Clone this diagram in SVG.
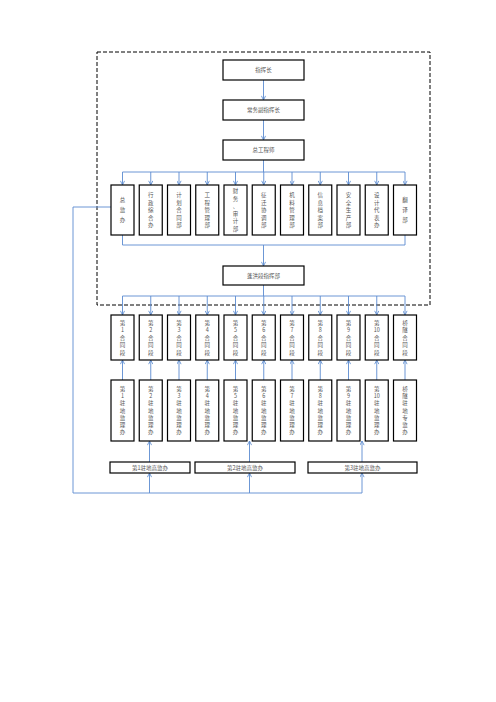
<svg xmlns="http://www.w3.org/2000/svg" width="496" height="702" viewBox="0 0 496 702">
<style>
.b{fill:#fff;stroke:#000;stroke-width:1.2}
.t{font-family:"Noto Sans CJK SC","Liberation Serif",serif;font-size:5.5px;fill:#555;text-anchor:middle}
.c{fill:none;stroke:#5b8bd0;stroke-width:0.9}
.a{marker-end:url(#ar)}
</style>
<defs>
<marker id="ar" viewBox="0 0 6 6" refX="5.5" refY="3" markerWidth="5" markerHeight="5" orient="auto" markerUnits="userSpaceOnUse">
<path d="M0.5,0.5 L5.5,3 L0.5,5.5" fill="none" stroke="#5b8bd0" stroke-width="1"/>
</marker>
</defs>
<rect x="97" y="52" width="333" height="253" fill="none" stroke="#000" stroke-width="1" stroke-dasharray="4,2"/>
<g id="connectors">
<path class="c a" d="M263.5,80 V100"/>
<path class="c a" d="M263.5,120 V140"/>
<path class="c" d="M263.5,160 V172 M122.5,172 H405"/>
<path class="c a" d="M122.5,172 V185"/><path class="c a" d="M150.75,172 V185"/><path class="c a" d="M179,172 V185"/><path class="c a" d="M207.25,172 V185"/><path class="c a" d="M235.5,172 V185"/><path class="c a" d="M263.75,172 V185"/><path class="c a" d="M292,172 V185"/><path class="c a" d="M320.25,172 V185"/><path class="c a" d="M348.5,172 V185"/><path class="c a" d="M376.75,172 V185"/><path class="c a" d="M405,172 V185"/>
<path class="c" d="M122.5,235 V245 H405 V235"/>
<path class="c a" d="M263.5,245 V266"/>
<path class="c" d="M263.5,285 V296 M122.5,296 H405"/>
<path class="c a" d="M122.5,296 V315"/><path class="c a" d="M150.75,296 V315"/><path class="c a" d="M179,296 V315"/><path class="c a" d="M207.25,296 V315"/><path class="c a" d="M235.5,296 V315"/><path class="c a" d="M263.75,296 V315"/><path class="c a" d="M292,296 V315"/><path class="c a" d="M320.25,296 V315"/><path class="c a" d="M348.5,296 V315"/><path class="c a" d="M376.75,296 V315"/><path class="c a" d="M405,296 V315"/>
<path class="c a" d="M122.5,380 V360"/><path class="c a" d="M150.75,380 V360"/><path class="c a" d="M179,380 V360"/><path class="c a" d="M207.25,380 V360"/><path class="c a" d="M235.5,380 V360"/><path class="c a" d="M263.75,380 V360"/><path class="c a" d="M292,380 V360"/><path class="c a" d="M320.25,380 V360"/><path class="c a" d="M348.5,380 V360"/><path class="c a" d="M376.75,380 V360"/><path class="c a" d="M405,380 V360"/>
<path class="c a" d="M149.5,462 V441"/><path class="c a" d="M249.5,462 V441"/><path class="c a" d="M362,462 V441"/>
<path class="c" d="M111,207 H73 V493 H362"/>
<path class="c a" d="M149.5,493 V473"/><path class="c a" d="M249.5,493 V473"/><path class="c a" d="M362,493 V473"/>
</g>
<g id="n-zhihuizhang"><rect class="b" x="223" y="60" width="81" height="20"/><text class="t" x="263.5" y="72">指挥长</text></g>
<g id="n-changwu"><rect class="b" x="223" y="100" width="81" height="20"/><text class="t" x="263.5" y="112">常务副指挥长</text></g>
<g id="n-zonggong"><rect class="b" x="223" y="140" width="81" height="20"/><text class="t" x="263.5" y="152">总工程师</text></g>
<g id="d1"><rect class="b" x="111" y="185" width="23" height="50"/><text class="t"><tspan x="122.5" y="202">总</tspan><tspan x="122.5" y="212">监</tspan><tspan x="122.5" y="222">办</tspan></text></g>
<g id="d2"><rect class="b" x="139.25" y="185" width="23" height="50"/><text class="t"><tspan x="150.75" y="197">行</tspan><tspan x="150.75" y="204.5">政</tspan><tspan x="150.75" y="212">综</tspan><tspan x="150.75" y="219.5">合</tspan><tspan x="150.75" y="227">办</tspan></text></g>
<g id="d3"><rect class="b" x="167.5" y="185" width="23" height="50"/><text class="t"><tspan x="179" y="197">计</tspan><tspan x="179" y="204.5">划</tspan><tspan x="179" y="212">合</tspan><tspan x="179" y="219.5">同</tspan><tspan x="179" y="227">部</tspan></text></g>
<g id="d4"><rect class="b" x="195.75" y="185" width="23" height="50"/><text class="t"><tspan x="207.25" y="197">工</tspan><tspan x="207.25" y="204.5">程</tspan><tspan x="207.25" y="212">管</tspan><tspan x="207.25" y="219.5">理</tspan><tspan x="207.25" y="227">部</tspan></text></g>
<g id="d5"><rect class="b" x="224" y="185" width="23" height="50"/><text class="t"><tspan x="235.5" y="193">财</tspan><tspan x="235.5" y="200.5">务</tspan><tspan x="235.5" y="208">、</tspan><tspan x="235.5" y="215.5">审</tspan><tspan x="235.5" y="223">计</tspan><tspan x="235.5" y="230.5">部</tspan></text></g>
<g id="d6"><rect class="b" x="252.25" y="185" width="23" height="50"/><text class="t"><tspan x="263.75" y="197">征</tspan><tspan x="263.75" y="204.5">迁</tspan><tspan x="263.75" y="212">协</tspan><tspan x="263.75" y="219.5">调</tspan><tspan x="263.75" y="227">部</tspan></text></g>
<g id="d7"><rect class="b" x="280.5" y="185" width="23" height="50"/><text class="t"><tspan x="292" y="197">机</tspan><tspan x="292" y="204.5">料</tspan><tspan x="292" y="212">管</tspan><tspan x="292" y="219.5">理</tspan><tspan x="292" y="227">部</tspan></text></g>
<g id="d8"><rect class="b" x="308.75" y="185" width="23" height="50"/><text class="t"><tspan x="320.25" y="197">信</tspan><tspan x="320.25" y="204.5">息</tspan><tspan x="320.25" y="212">档</tspan><tspan x="320.25" y="219.5">案</tspan><tspan x="320.25" y="227">部</tspan></text></g>
<g id="d9"><rect class="b" x="337" y="185" width="23" height="50"/><text class="t"><tspan x="348.5" y="197">安</tspan><tspan x="348.5" y="204.5">全</tspan><tspan x="348.5" y="212">生</tspan><tspan x="348.5" y="219.5">产</tspan><tspan x="348.5" y="227">部</tspan></text></g>
<g id="d10"><rect class="b" x="365.25" y="185" width="23" height="50"/><text class="t"><tspan x="376.75" y="197">设</tspan><tspan x="376.75" y="204.5">计</tspan><tspan x="376.75" y="212">代</tspan><tspan x="376.75" y="219.5">表</tspan><tspan x="376.75" y="227">办</tspan></text></g>
<g id="d11"><rect class="b" x="393.5" y="185" width="23" height="50"/><text class="t"><tspan x="405" y="202">翻</tspan><tspan x="405" y="212">译</tspan><tspan x="405" y="222">部</tspan></text></g>
<g id="n-duan"><rect class="b" x="223" y="266" width="81" height="19"/><text class="t" x="263.5" y="277.5">蓬洪段指挥部</text></g>
<g id="h1"><rect class="b" x="111" y="315" width="23" height="45"/><text class="t"><tspan x="122.5" y="324.5">第</tspan><tspan x="122.5" y="332">1</tspan><tspan x="122.5" y="339.5">合</tspan><tspan x="122.5" y="347">同</tspan><tspan x="122.5" y="354.5">段</tspan></text></g>
<g id="h2"><rect class="b" x="139.25" y="315" width="23" height="45"/><text class="t"><tspan x="150.75" y="324.5">第</tspan><tspan x="150.75" y="332">2</tspan><tspan x="150.75" y="339.5">合</tspan><tspan x="150.75" y="347">同</tspan><tspan x="150.75" y="354.5">段</tspan></text></g>
<g id="h3"><rect class="b" x="167.5" y="315" width="23" height="45"/><text class="t"><tspan x="179" y="324.5">第</tspan><tspan x="179" y="332">3</tspan><tspan x="179" y="339.5">合</tspan><tspan x="179" y="347">同</tspan><tspan x="179" y="354.5">段</tspan></text></g>
<g id="h4"><rect class="b" x="195.75" y="315" width="23" height="45"/><text class="t"><tspan x="207.25" y="324.5">第</tspan><tspan x="207.25" y="332">4</tspan><tspan x="207.25" y="339.5">合</tspan><tspan x="207.25" y="347">同</tspan><tspan x="207.25" y="354.5">段</tspan></text></g>
<g id="h5"><rect class="b" x="224" y="315" width="23" height="45"/><text class="t"><tspan x="235.5" y="324.5">第</tspan><tspan x="235.5" y="332">5</tspan><tspan x="235.5" y="339.5">合</tspan><tspan x="235.5" y="347">同</tspan><tspan x="235.5" y="354.5">段</tspan></text></g>
<g id="h6"><rect class="b" x="252.25" y="315" width="23" height="45"/><text class="t"><tspan x="263.75" y="324.5">第</tspan><tspan x="263.75" y="332">6</tspan><tspan x="263.75" y="339.5">合</tspan><tspan x="263.75" y="347">同</tspan><tspan x="263.75" y="354.5">段</tspan></text></g>
<g id="h7"><rect class="b" x="280.5" y="315" width="23" height="45"/><text class="t"><tspan x="292" y="324.5">第</tspan><tspan x="292" y="332">7</tspan><tspan x="292" y="339.5">合</tspan><tspan x="292" y="347">同</tspan><tspan x="292" y="354.5">段</tspan></text></g>
<g id="h8"><rect class="b" x="308.75" y="315" width="23" height="45"/><text class="t"><tspan x="320.25" y="324.5">第</tspan><tspan x="320.25" y="332">8</tspan><tspan x="320.25" y="339.5">合</tspan><tspan x="320.25" y="347">同</tspan><tspan x="320.25" y="354.5">段</tspan></text></g>
<g id="h9"><rect class="b" x="337" y="315" width="23" height="45"/><text class="t"><tspan x="348.5" y="324.5">第</tspan><tspan x="348.5" y="332">9</tspan><tspan x="348.5" y="339.5">合</tspan><tspan x="348.5" y="347">同</tspan><tspan x="348.5" y="354.5">段</tspan></text></g>
<g id="h10"><rect class="b" x="365.25" y="315" width="23" height="45"/><text class="t"><tspan x="376.75" y="324.5">第</tspan><tspan x="376.75" y="332">10</tspan><tspan x="376.75" y="339.5">合</tspan><tspan x="376.75" y="347">同</tspan><tspan x="376.75" y="354.5">段</tspan></text></g>
<g id="h11"><rect class="b" x="393.5" y="315" width="23" height="45"/><text class="t"><tspan x="405" y="324.5">桥</tspan><tspan x="405" y="332">隧</tspan><tspan x="405" y="339.5">合</tspan><tspan x="405" y="347">同</tspan><tspan x="405" y="354.5">段</tspan></text></g>
<g id="s1"><rect class="b" x="111" y="380" width="23" height="61"/><text class="t"><tspan x="122.5" y="391">第</tspan><tspan x="122.5" y="398.2">1</tspan><tspan x="122.5" y="405.4">驻</tspan><tspan x="122.5" y="412.6">地</tspan><tspan x="122.5" y="419.8">监</tspan><tspan x="122.5" y="427">理</tspan><tspan x="122.5" y="434.2">办</tspan></text></g>
<g id="s2"><rect class="b" x="139.25" y="380" width="23" height="61"/><text class="t"><tspan x="150.75" y="391">第</tspan><tspan x="150.75" y="398.2">2</tspan><tspan x="150.75" y="405.4">驻</tspan><tspan x="150.75" y="412.6">地</tspan><tspan x="150.75" y="419.8">监</tspan><tspan x="150.75" y="427">理</tspan><tspan x="150.75" y="434.2">办</tspan></text></g>
<g id="s3"><rect class="b" x="167.5" y="380" width="23" height="61"/><text class="t"><tspan x="179" y="391">第</tspan><tspan x="179" y="398.2">3</tspan><tspan x="179" y="405.4">驻</tspan><tspan x="179" y="412.6">地</tspan><tspan x="179" y="419.8">监</tspan><tspan x="179" y="427">理</tspan><tspan x="179" y="434.2">办</tspan></text></g>
<g id="s4"><rect class="b" x="195.75" y="380" width="23" height="61"/><text class="t"><tspan x="207.25" y="391">第</tspan><tspan x="207.25" y="398.2">4</tspan><tspan x="207.25" y="405.4">驻</tspan><tspan x="207.25" y="412.6">地</tspan><tspan x="207.25" y="419.8">监</tspan><tspan x="207.25" y="427">理</tspan><tspan x="207.25" y="434.2">办</tspan></text></g>
<g id="s5"><rect class="b" x="224" y="380" width="23" height="61"/><text class="t"><tspan x="235.5" y="391">第</tspan><tspan x="235.5" y="398.2">5</tspan><tspan x="235.5" y="405.4">驻</tspan><tspan x="235.5" y="412.6">地</tspan><tspan x="235.5" y="419.8">监</tspan><tspan x="235.5" y="427">理</tspan><tspan x="235.5" y="434.2">办</tspan></text></g>
<g id="s6"><rect class="b" x="252.25" y="380" width="23" height="61"/><text class="t"><tspan x="263.75" y="391">第</tspan><tspan x="263.75" y="398.2">6</tspan><tspan x="263.75" y="405.4">驻</tspan><tspan x="263.75" y="412.6">地</tspan><tspan x="263.75" y="419.8">监</tspan><tspan x="263.75" y="427">理</tspan><tspan x="263.75" y="434.2">办</tspan></text></g>
<g id="s7"><rect class="b" x="280.5" y="380" width="23" height="61"/><text class="t"><tspan x="292" y="391">第</tspan><tspan x="292" y="398.2">7</tspan><tspan x="292" y="405.4">驻</tspan><tspan x="292" y="412.6">地</tspan><tspan x="292" y="419.8">监</tspan><tspan x="292" y="427">理</tspan><tspan x="292" y="434.2">办</tspan></text></g>
<g id="s8"><rect class="b" x="308.75" y="380" width="23" height="61"/><text class="t"><tspan x="320.25" y="391">第</tspan><tspan x="320.25" y="398.2">8</tspan><tspan x="320.25" y="405.4">驻</tspan><tspan x="320.25" y="412.6">地</tspan><tspan x="320.25" y="419.8">监</tspan><tspan x="320.25" y="427">理</tspan><tspan x="320.25" y="434.2">办</tspan></text></g>
<g id="s9"><rect class="b" x="337" y="380" width="23" height="61"/><text class="t"><tspan x="348.5" y="391">第</tspan><tspan x="348.5" y="398.2">9</tspan><tspan x="348.5" y="405.4">驻</tspan><tspan x="348.5" y="412.6">地</tspan><tspan x="348.5" y="419.8">监</tspan><tspan x="348.5" y="427">理</tspan><tspan x="348.5" y="434.2">办</tspan></text></g>
<g id="s10"><rect class="b" x="365.25" y="380" width="23" height="61"/><text class="t"><tspan x="376.75" y="391">第</tspan><tspan x="376.75" y="398.2">10</tspan><tspan x="376.75" y="405.4">驻</tspan><tspan x="376.75" y="412.6">地</tspan><tspan x="376.75" y="419.8">监</tspan><tspan x="376.75" y="427">理</tspan><tspan x="376.75" y="434.2">办</tspan></text></g>
<g id="s11"><rect class="b" x="393.5" y="380" width="23" height="61"/><text class="t"><tspan x="405" y="391">桥</tspan><tspan x="405" y="398.2">隧</tspan><tspan x="405" y="405.4">驻</tspan><tspan x="405" y="412.6">地</tspan><tspan x="405" y="419.8">专</tspan><tspan x="405" y="427">监</tspan><tspan x="405" y="434.2">办</tspan></text></g>
<g id="g1"><rect class="b" x="110" y="462" width="80" height="11"/><text class="t" x="150" y="469.5">第1驻地高监办</text></g>
<g id="g2"><rect class="b" x="195" y="462" width="100" height="11"/><text class="t" x="245" y="469.5">第2驻地高监办</text></g>
<g id="g3"><rect class="b" x="308" y="462" width="109" height="11"/><text class="t" x="362.5" y="469.5">第3驻地高监办</text></g>
</svg>
